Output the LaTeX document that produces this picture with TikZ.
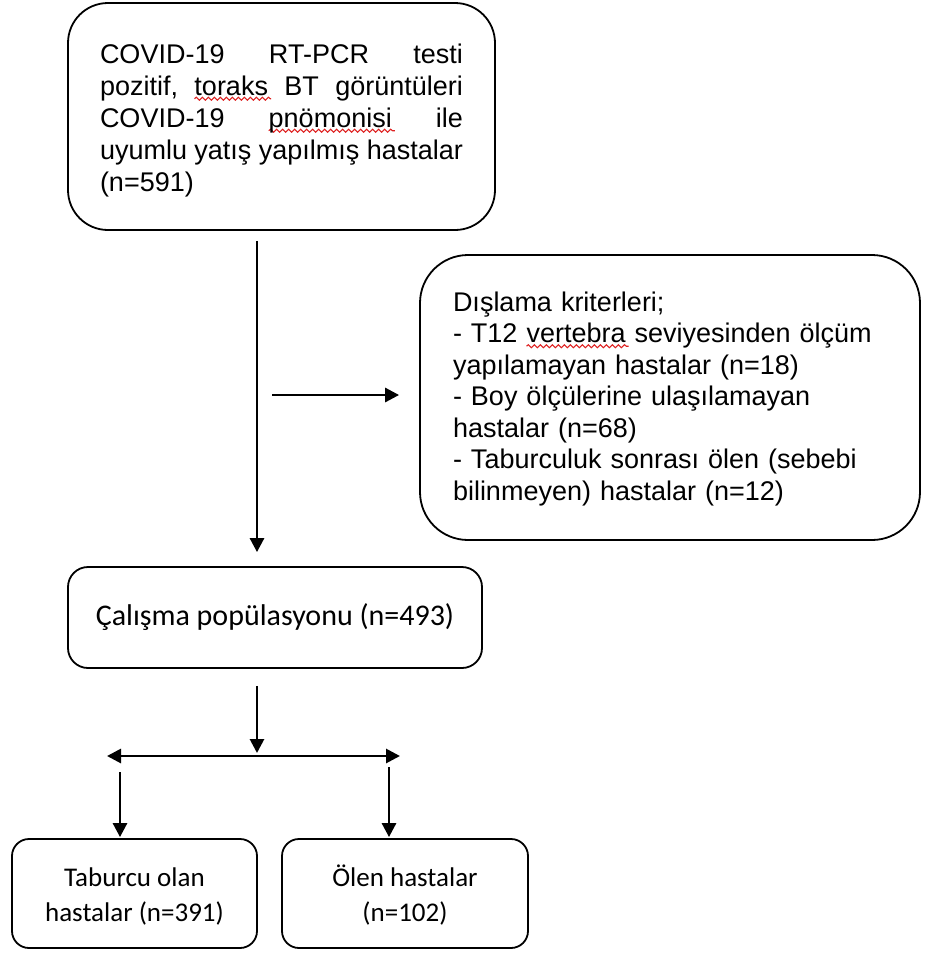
\documentclass[tikz,border=0pt]{standalone}
\usepackage{fontspec}
\setmainfont{Liberation Sans}
\newfontfamily\calibrifont{Carlito}
\usetikzlibrary{arrows.meta,decorations.pathmorphing}
\setlength\parindent{0pt}

\definecolor{spellred}{RGB}{222,32,32}
\newlength\spellwd
% red wavy spell-check underline below a word
\newcommand\spellmark[1]{\settowidth\spellwd{#1}\rlap{\tikz[overlay,baseline=0pt]\draw[spellred,line width=1.1pt,sharp corners,decorate,decoration={snake,amplitude=1.5pt,segment length=6pt}] (0pt,-3.5pt) -- (\spellwd+3pt,-3.5pt);}#1}

\tikzset{
  flowbox/.style={draw=black, line width=1.8pt, inner sep=0pt, fill=white},
  arr/.style={line width=2.8pt, -{Triangle[length=14pt,width=14pt]}},
  dblarr/.style={line width=2.8pt, {Triangle[length=14pt,width=14pt]}-{Triangle[length=14pt,width=14pt]}},
}

\begin{document}
\begin{tikzpicture}[x=1pt,y=-1pt]
\useasboundingbox[fill=white] (0,0) rectangle (928,954);

% patients admitted (fully justified lines)
\node[flowbox, minimum width=427pt, minimum height=227pt, rounded corners=40pt,
      text width=363pt, align=left, font=\fontsize{27}{32}\selectfont] (top) at (281.5,116.5)
  {\hbox to\linewidth{\rule{0pt}{27pt}COVID-19\hfill RT-PCR\hfill testi}\par
   \hbox to\linewidth{pozitif,\hfill \spellmark{toraks}\hfill BT\hfill görüntüleri}\par
   \hbox to\linewidth{COVID-19\hfill \spellmark{pnömonisi}\hfill ile}\par
   \hbox to\linewidth{uyumlu\hfill yatış\hfill yapılmış\hfill hastalar}\par
   \hbox{(n=591)}};

% exclusion criteria
\node[flowbox, minimum width=500pt, minimum height=285pt, rounded corners=48pt,
      text width=434pt, align=left, font=\fontsize{27}{31.5}\selectfont] (excl) at (670,397.5)
  {\rule{0pt}{22pt}Dışlama kriterleri;\\
   - T12 \spellmark{vertebra} seviyesinden ölçüm\\
   yapılamayan hastalar (n=18)\\
   - Boy ölçülerine ulaşılamayan\\
   hastalar (n=68)\\
   - Taburculuk sonrası ölen (sebebi\\
   bilinmeyen) hastalar (n=12)};

% study population
\node[flowbox, minimum width=414pt, minimum height=101pt, rounded corners=20pt,
      font=\calibrifont\fontsize{30}{36}\selectfont] (mid) at (275,617.5)
  {Çalışma popülasyonu (n=493)};

% outcomes
\node[flowbox, minimum width=245pt, minimum height=109pt, rounded corners=17pt,
      align=center, font=\calibrifont\fontsize{27}{35}\selectfont] (disch) at (134.5,893.5)
  {\rule{0pt}{24pt}Taburcu olan\\hastalar (n=391)};
\node[flowbox, minimum width=246pt, minimum height=109pt, rounded corners=17pt,
      align=center, font=\calibrifont\fontsize{27}{35}\selectfont] (died) at (405,893.5)
  {\rule{0pt}{24pt}Ölen hastalar\\(n=102)};

% connector anchors
\coordinate (trunk) at (257,0);
\coordinate (side) at (272,395);
\coordinate (split) at (257,753);
\coordinate (splitL) at (107,756);
\coordinate (splitR) at (400,756);
\coordinate (downL) at (120,772);
\coordinate (downR) at (389,767);

\draw[arr, shorten <=10pt, shorten >=14pt] (top.south -| trunk) -- (mid.north -| trunk);
\draw[arr, shorten >=20pt] (side) -- (side -| excl.west);
\draw[arr, shorten <=17pt] (mid.south -| trunk) -- (split);
\draw[dblarr] (splitL) -- (splitR);
\draw[arr, shorten >=1pt] (downL) -- (downL |- disch.north);
\draw[arr, shorten >=1pt] (downR) -- (downR |- died.north);
\end{tikzpicture}
\end{document}
